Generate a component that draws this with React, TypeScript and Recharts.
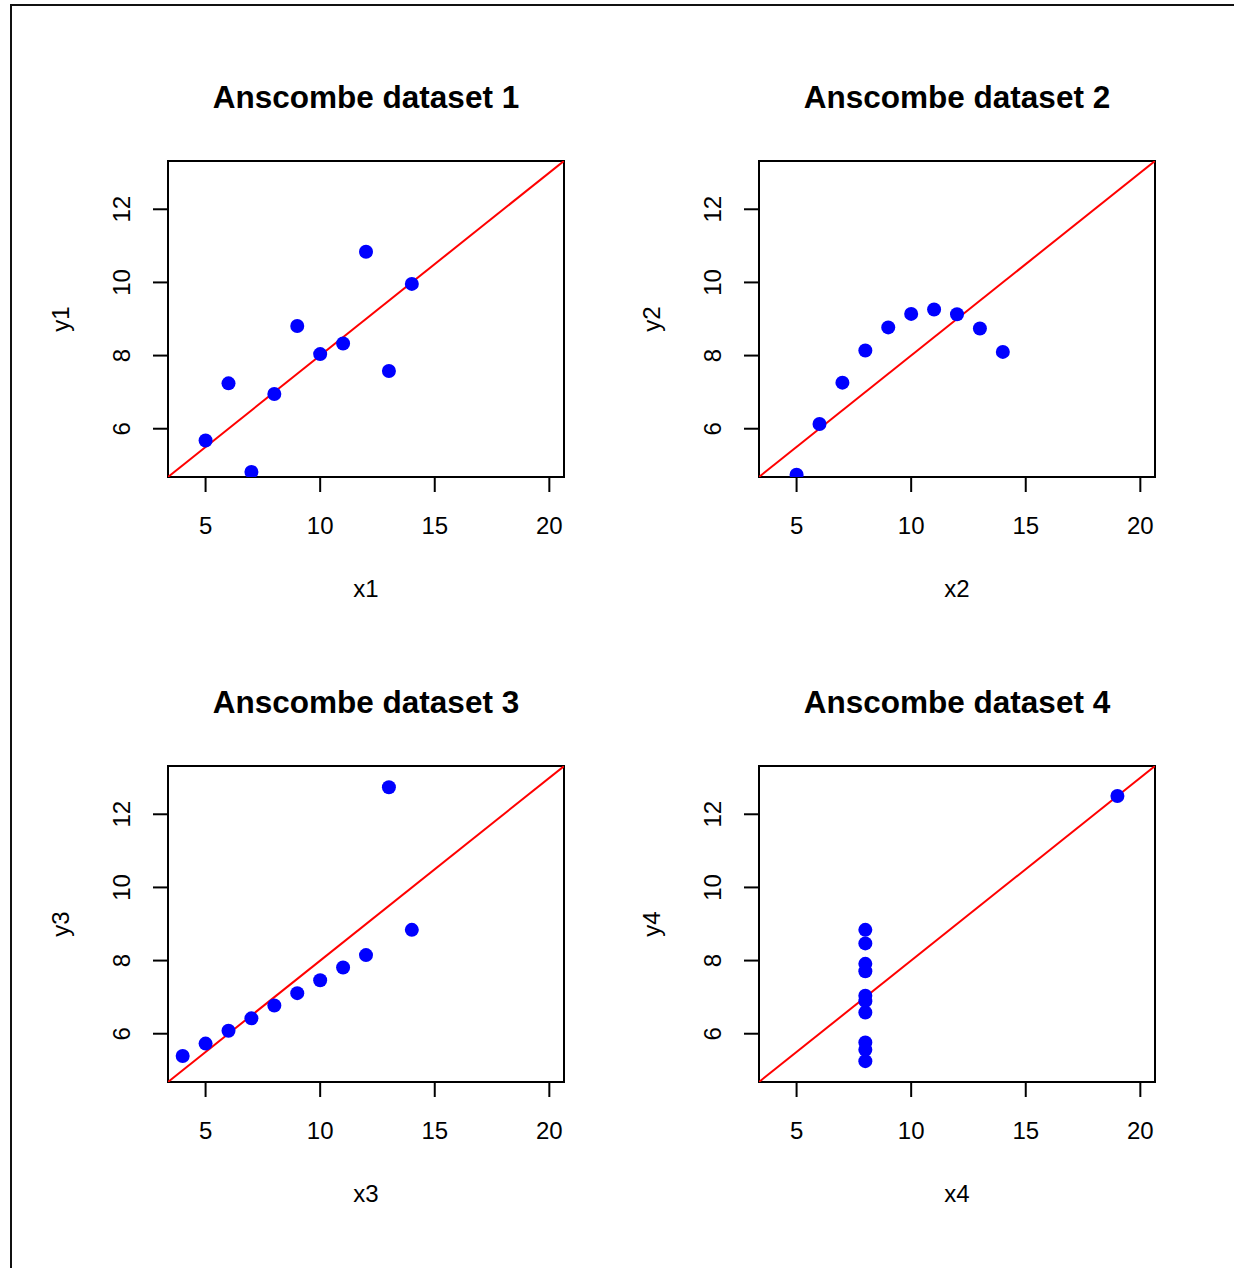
import { ScatterChart, Scatter, XAxis, YAxis, ReferenceArea, ReferenceLine } from "recharts";

// Anscombe's quartet
const X123 = [10, 8, 13, 9, 11, 14, 6, 4, 12, 7, 5];
const Y1 = [8.04, 6.95, 7.58, 8.81, 8.33, 9.96, 7.24, 4.26, 10.84, 4.82, 5.68];
const Y2 = [9.14, 8.14, 8.74, 8.77, 9.26, 8.1, 6.13, 3.1, 9.13, 7.26, 4.74];
const Y3 = [7.46, 6.77, 12.74, 7.11, 7.81, 8.84, 6.08, 5.39, 8.15, 6.42, 5.73];
const X4 = [8, 8, 8, 8, 8, 8, 8, 19, 8, 8, 8];
const Y4 = [6.58, 5.76, 7.71, 8.84, 8.47, 7.04, 5.25, 12.5, 5.56, 7.91, 6.89];

// lm(y ~ x) coefficients, one per set
const INTERCEPTS = [3.0001, 3.0009, 3.0025, 3.0017];
const SLOPES = [0.5001, 0.5, 0.4997, 0.4999];

const X_TICKS = [5, 10, 15, 20];
const Y_TICKS = [6, 8, 10, 12];
const X_LIM = [4, 20];
const Y_LIM = [5, 13];

// R pads the axis range by 4% on each side
const pad = (lim: number[]) => {
  const d = (lim[1] - lim[0]) * 0.04;
  return [lim[0] - d, lim[1] + d];
};
const X_DOMAIN = pad(X_LIM);
const Y_DOMAIN = pad(Y_LIM);

const FONT = "'Liberation Sans', Arial, Helvetica, sans-serif";
const PW = 396; // plot region
const PH = 316;
const AX = 130; // room for axis ticks + labels
const GAP = 10;

const PANELS = [
  { xs: X123, ys: Y1, left: 168, top: 161 },
  { xs: X123, ys: Y2, left: 759, top: 161 },
  { xs: X123, ys: Y3, left: 168, top: 766 },
  { xs: X4, ys: Y4, left: 759, top: 766 },
];

const XTick = ({ x, y, payload }: any) => (
  <text x={x} y={y + 42} textAnchor="middle" fontSize={24} fontFamily={FONT} fill="#000">
    {payload.value}
  </text>
);

const YTick = ({ x, y, payload }: any) => (
  <g transform={`translate(${x - 23},${y}) rotate(-90)`}>
    <text x={0} y={0} textAnchor="middle" fontSize={24} fontFamily={FONT} fill="#000">
      {payload.value}
    </text>
  </g>
);

const Dot = ({ cx, cy }: any) => <circle cx={cx} cy={cy} r={7} fill="#0000FF" />;

function Panel({ idx, xs, ys, left, top }: { idx: number; xs: number[]; ys: number[]; left: number; top: number }) {
  const data = xs.map((x, i) => ({ x, y: ys[i] }));
  const a = INTERCEPTS[idx];
  const b = SLOPES[idx];
  const n = idx + 1;
  return (
    <>
      <div
        style={{
          position: "absolute",
          left,
          top: top - 79,
          width: PW,
          textAlign: "center",
          fontFamily: FONT,
          fontSize: 31.5,
          fontWeight: "bold",
          lineHeight: "31px",
          whiteSpace: "nowrap",
        }}
      >
        Anscombe dataset {n}
      </div>
      <div style={{ position: "absolute", left: left - AX, top: top - GAP }}>
        <ScatterChart
          width={AX + PW + GAP}
          height={GAP + PH + AX}
          margin={{ top: GAP, right: GAP, bottom: 0, left: 0 }}
        >
          <XAxis
            type="number"
            dataKey="x"
            domain={X_DOMAIN}
            allowDataOverflow
            ticks={X_TICKS}
            interval={0}
            height={AX}
            axisLine={false}
            tickSize={15}
            tickMargin={0}
            tickLine={{ stroke: "#000", strokeWidth: 2 }}
            tick={XTick}
            label={({ viewBox }: any) => (
              <text
                x={viewBox.x + viewBox.width / 2}
                y={viewBox.y + 120}
                textAnchor="middle"
                fontSize={24}
                fontFamily={FONT}
                fill="#000"
              >
                {`x${n}`}
              </text>
            )}
          />
          <YAxis
            type="number"
            dataKey="y"
            domain={Y_DOMAIN}
            allowDataOverflow
            ticks={Y_TICKS}
            interval={0}
            width={AX}
            axisLine={false}
            tickSize={15}
            tickMargin={0}
            tickLine={{ stroke: "#000", strokeWidth: 2 }}
            tick={YTick}
            label={({ viewBox }: any) => (
              <g transform={`translate(${viewBox.x + viewBox.width - 99},${viewBox.y + viewBox.height / 2}) rotate(-90)`}>
                <text x={0} y={0} textAnchor="middle" fontSize={24} fontFamily={FONT} fill="#000">
                  {`y${n}`}
                </text>
              </g>
            )}
          />
          <Scatter data={data} shape={Dot} isAnimationActive={false} />
          <ReferenceLine
            segment={[
              { x: X_DOMAIN[0], y: a + b * X_DOMAIN[0] },
              { x: X_DOMAIN[1], y: a + b * X_DOMAIN[1] },
            ]}
            stroke="#FF0000"
            strokeWidth={2}
            ifOverflow="hidden"
          />
          <ReferenceArea
            x1={X_DOMAIN[0]}
            x2={X_DOMAIN[1]}
            y1={Y_DOMAIN[0]}
            y2={Y_DOMAIN[1]}
            fill="none"
            fillOpacity={0}
            stroke="#000"
            strokeWidth={2}
            ifOverflow="visible"
          />
        </ScatterChart>
      </div>
    </>
  );
}

export default function App() {
  return (
    <div
      style={{
        position: "absolute",
        left: 0,
        top: 0,
        width: 1234,
        height: 1268,
        overflow: "hidden",
        background: "#fff",
      }}
    >
      <div
        style={{
          position: "absolute",
          left: 10,
          top: 4,
          width: 1300,
          height: 1300,
          borderLeft: "2px solid #111",
          borderTop: "2px solid #111",
        }}
      />
      {PANELS.map((p, i) => (
        <Panel key={i} idx={i} xs={p.xs} ys={p.ys} left={p.left} top={p.top} />
      ))}
    </div>
  );
}
